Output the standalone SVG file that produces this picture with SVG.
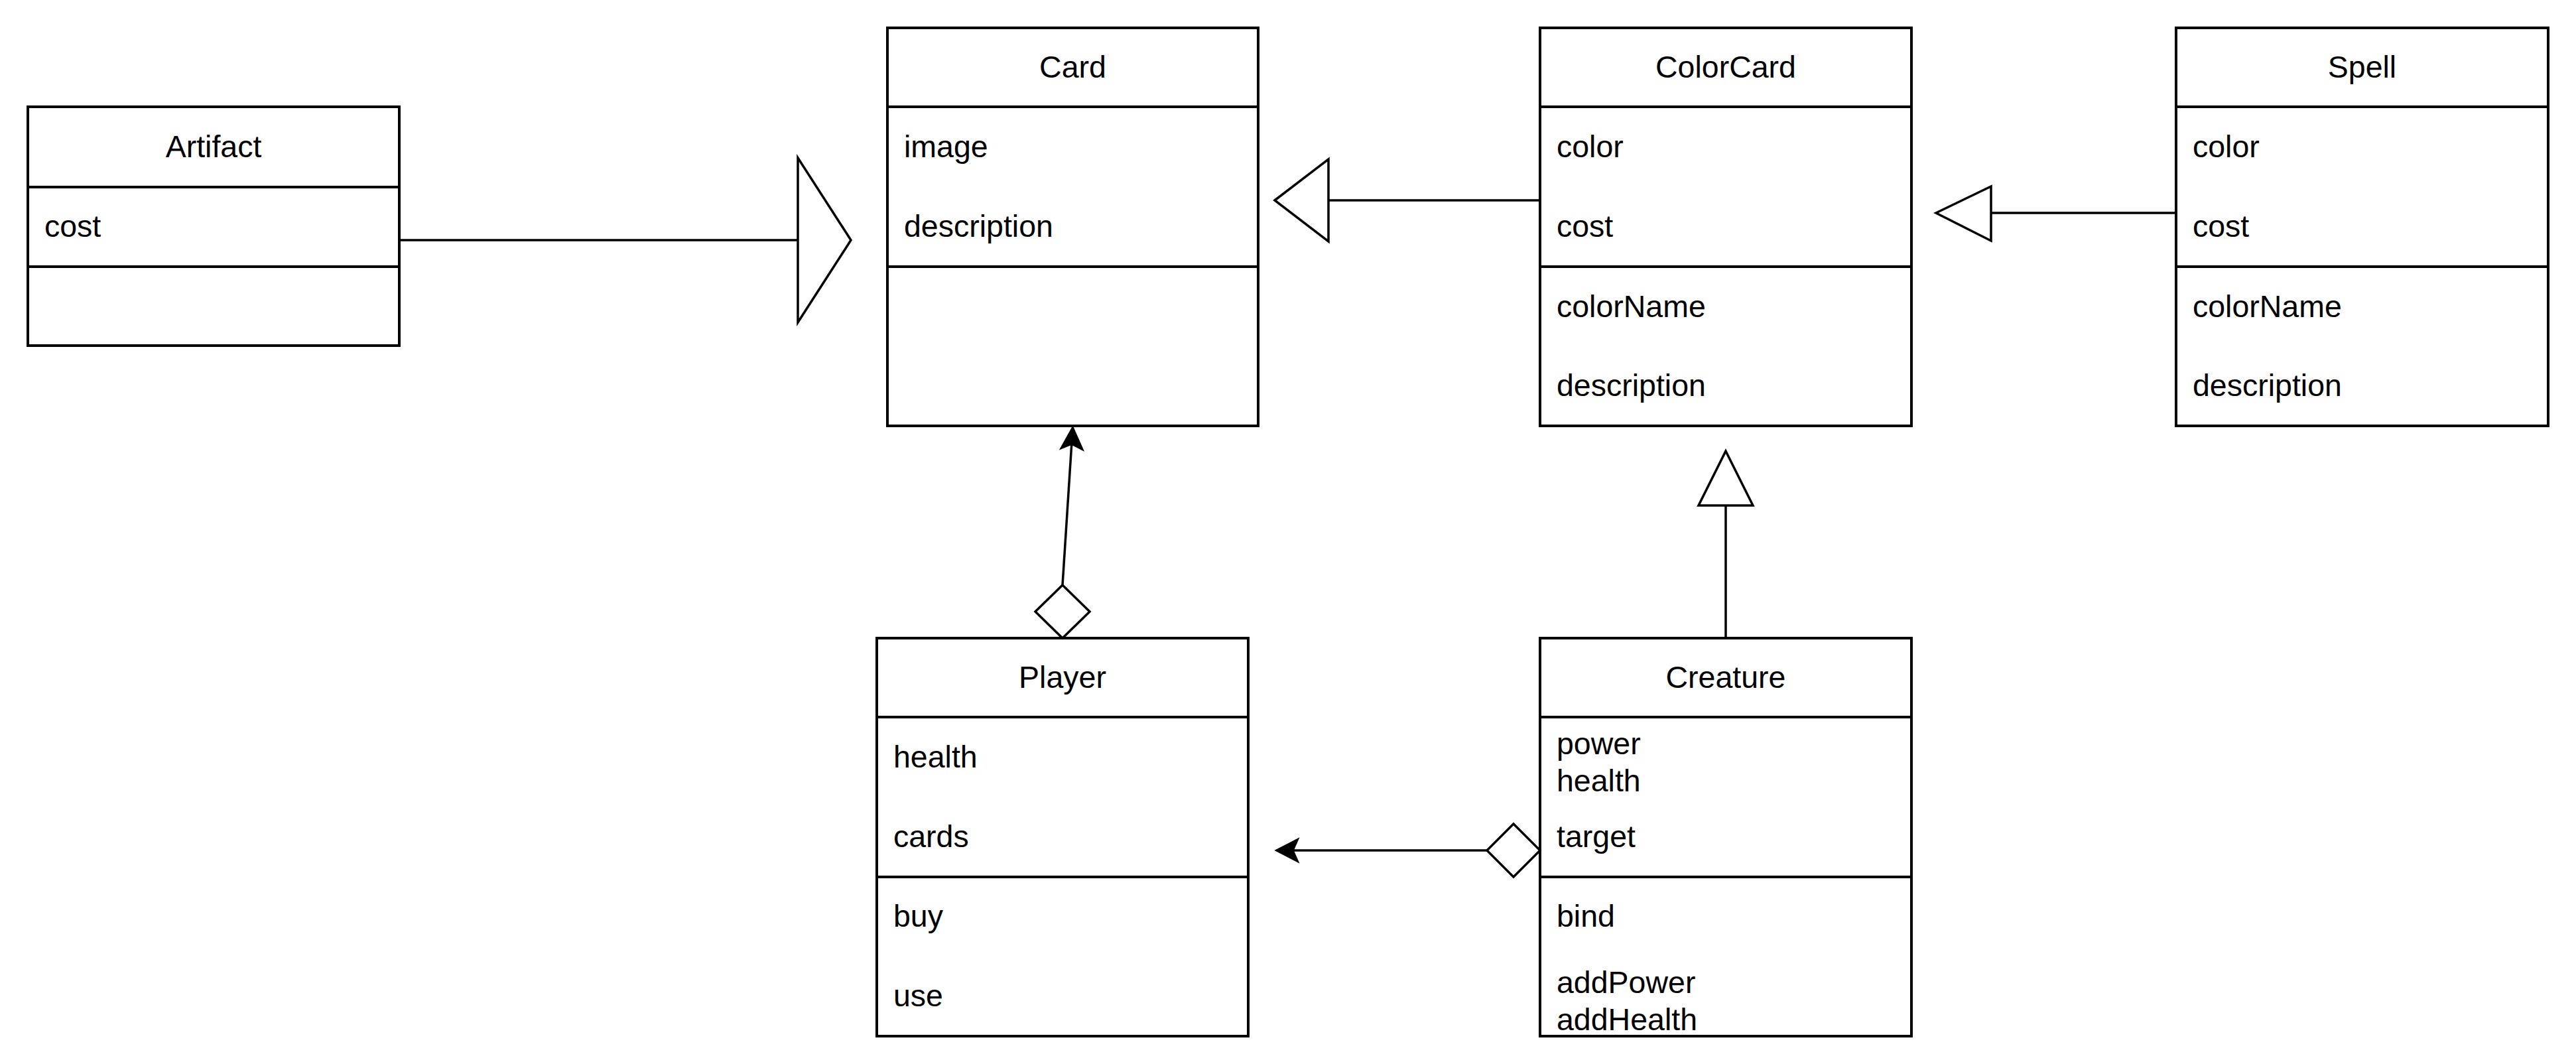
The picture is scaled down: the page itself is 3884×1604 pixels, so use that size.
<svg xmlns="http://www.w3.org/2000/svg" width="3884" height="1604" viewBox="0 0 3884 1604">
<style>
.box{fill:#fff;stroke:#000;stroke-width:4}
.sep{stroke:#000;stroke-width:4;fill:none}
.t{font-family:"Liberation Sans",Arial,sans-serif;font-size:46.5px;fill:#000}
.c{text-anchor:middle}
.edge{stroke:#000;stroke-width:3.5;fill:none}
.hollow{fill:#fff;stroke:#000;stroke-width:3.5;stroke-linejoin:miter}
.solid{fill:#000;stroke:#000;stroke-width:1.5}
</style>
<rect width="3884" height="1604" fill="#fff"/>
<g id="Artifact">
<rect class="box" x="42" y="161" width="560" height="360"/>
<line class="sep" x1="42" y1="282" x2="602" y2="282"/>
<line class="sep" x1="42" y1="402" x2="602" y2="402"/>
<text class="t c" x="322" y="237">Artifact</text>
<text class="t" x="67" y="357">cost</text>
</g>
<g id="Card">
<rect class="box" x="1338" y="42" width="559" height="600"/>
<line class="sep" x1="1338" y1="161" x2="1897" y2="161"/>
<line class="sep" x1="1338" y1="402" x2="1897" y2="402"/>
<text class="t c" x="1617.5" y="117">Card</text>
<text class="t" x="1363" y="237">image</text>
<text class="t" x="1363" y="357">description</text>
</g>
<g id="ColorCard">
<rect class="box" x="2322" y="42" width="560" height="600"/>
<line class="sep" x1="2322" y1="161" x2="2882" y2="161"/>
<line class="sep" x1="2322" y1="402" x2="2882" y2="402"/>
<text class="t c" x="2602" y="117">ColorCard</text>
<text class="t" x="2347" y="237">color</text>
<text class="t" x="2347" y="357">cost</text>
<text class="t" x="2347" y="478">colorName</text>
<text class="t" x="2347" y="597">description</text>
</g>
<g id="Spell">
<rect class="box" x="3281" y="42" width="561" height="600"/>
<line class="sep" x1="3281" y1="161" x2="3842" y2="161"/>
<line class="sep" x1="3281" y1="402" x2="3842" y2="402"/>
<text class="t c" x="3561.5" y="117">Spell</text>
<text class="t" x="3306" y="237">color</text>
<text class="t" x="3306" y="357">cost</text>
<text class="t" x="3306" y="478">colorName</text>
<text class="t" x="3306" y="597">description</text>
</g>
<g id="Player">
<rect class="box" x="1322" y="962" width="560" height="600"/>
<line class="sep" x1="1322" y1="1081" x2="1882" y2="1081"/>
<line class="sep" x1="1322" y1="1322" x2="1882" y2="1322"/>
<text class="t c" x="1602" y="1037">Player</text>
<text class="t" x="1347" y="1157">health</text>
<text class="t" x="1347" y="1277">cards</text>
<text class="t" x="1347" y="1397">buy</text>
<text class="t" x="1347" y="1517">use</text>
</g>
<g id="Creature">
<rect class="box" x="2322" y="962" width="560" height="600"/>
<line class="sep" x1="2322" y1="1081" x2="2882" y2="1081"/>
<line class="sep" x1="2322" y1="1322" x2="2882" y2="1322"/>
<text class="t c" x="2602" y="1037">Creature</text>
<text class="t" x="2347" y="1137">power</text>
<text class="t" x="2347" y="1193">health</text>
<text class="t" x="2347" y="1277">target</text>
<text class="t" x="2347" y="1397">bind</text>
<text class="t" x="2347" y="1497">addPower</text>
<text class="t" x="2347" y="1553">addHealth</text>
</g>
<g id="connectors">
<!-- Artifact -> Card (generalization) -->
<line class="edge" x1="602" y1="362" x2="1203" y2="362"/>
<polygon class="hollow" points="1203,238 1283,362 1203,486"/>
<!-- ColorCard -> Card (generalization) -->
<line class="edge" x1="2003" y1="302" x2="2322" y2="302"/>
<polygon class="hollow" points="1922,302 2003,240 2003,364"/>
<!-- Spell -> ColorCard (generalization) -->
<line class="edge" x1="3002" y1="321" x2="3281" y2="321"/>
<polygon class="hollow" points="2919,321 3002,281 3002,363"/>
<!-- Creature -> ColorCard (generalization) -->
<line class="edge" x1="2602" y1="962" x2="2602" y2="762"/>
<polygon class="hollow" points="2602,680 2643,762 2561,762"/>
<!-- Player -> Card (aggregation) -->
<line class="edge" x1="1602" y1="882" x2="1615.8" y2="669"/>
<polygon class="hollow" points="1602,882 1643,922 1602,962 1561,922"/>
<polygon class="solid" points="1617.5,643 1633.5,679 1615.8,670 1598.5,677"/>
<!-- Creature -> Player (aggregation) -->
<line class="edge" x1="2242" y1="1282" x2="1950" y2="1282"/>
<polygon class="hollow" points="2242,1282 2282,1242 2322,1282 2282,1322"/>
<polygon class="solid" points="1923,1282 1958,1264 1950,1282 1958,1300"/>
</g>
</svg>
